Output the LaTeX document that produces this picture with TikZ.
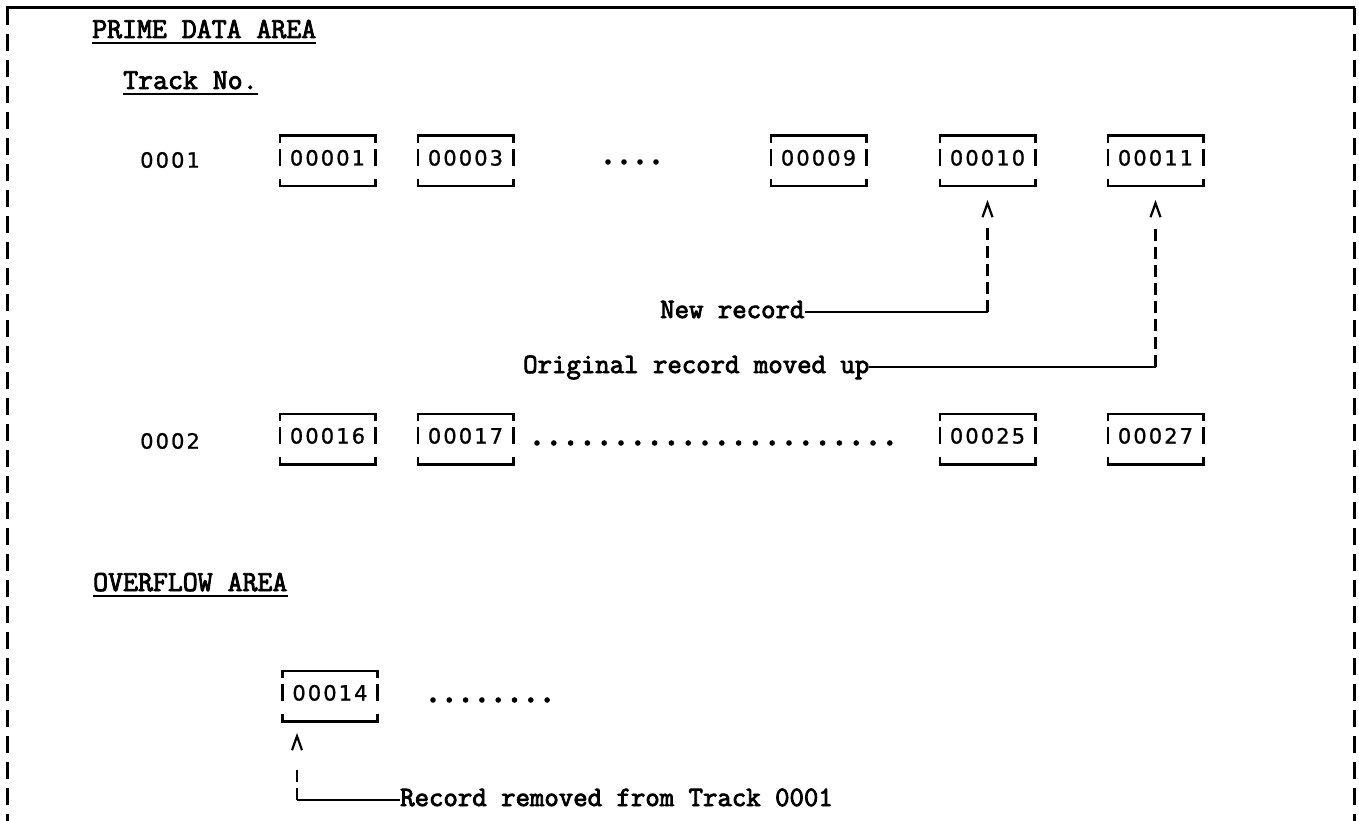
\documentclass[tikz,border=0pt]{standalone}
\usepackage{fontspec}
\newfontfamily\twf[FakeBold=3]{Latin Modern Mono}
\newfontfamily\dgf[LetterSpace=10,FakeBold=1]{DejaVu Sans}
\newcommand\drawrec[1]{%
  \draw[bx] ([yshift=-7pt]#1.north west) -- (#1.north west) -- (#1.north east) -- ([yshift=-7pt]#1.north east);
  \draw[bx] ([yshift=7pt]#1.south west) -- (#1.south west) -- (#1.south east) -- ([yshift=7pt]#1.south east);
  \draw[bx] ([yshift=-13pt]#1.north west) -- ([yshift=-30pt]#1.north west);
  \draw[bx] ([yshift=-13pt]#1.north east) -- ([yshift=-30pt]#1.north east);
}
\newcommand\chev[1]{\draw[conn,line join=miter] ([xshift=-5pt,yshift=-7pt]#1) -- ([yshift=7pt]#1) -- ([xshift=5pt,yshift=-7pt]#1);}
\begin{document}
\begin{tikzpicture}[x=1pt,y=-1pt,
  rec/.style={minimum width=95pt, minimum height=50pt, inner sep=0pt, text height=15pt, text depth=6pt, font=\dgf\fontsize{21}{24}\selectfont},
  trk/.style={inner sep=0pt, anchor=west, font=\dgf\fontsize{21}{24}\selectfont},
  bx/.style={line width=2.6pt},
  conn/.style={line width=2.2pt},
  dconn/.style={line width=2.4pt, dash pattern=on 12pt off 6pt},
  frame/.style={line width=3pt},
  dframe/.style={line width=3pt, dash pattern=on 17pt off 9pt},
  tw/.style={font=\twf\fontsize{28}{32}\selectfont, inner sep=0pt, anchor=base west, text height=16pt, text depth=4pt},
  hd/.style={tw, font=\twf\fontsize{29}{32}\selectfont},
  ul/.style={line width=2pt},
  dotc/.style={fill=black, draw=none}
]
\useasboundingbox (0,0) rectangle (1359,821);
\fill[white] (0,0) rectangle (1359,821);

% frame
\draw[frame] (6,8) -- (1355,8);
\draw[dframe] (7,8) -- (7,821);
\draw[dframe] (1354,8) -- (1354,821);

% headings
\node[hd] (pda) at (92,38) {PRIME DATA AREA};
\draw[ul] ([yshift=-5pt]pda.base west) -- ([yshift=-5pt]pda.base east);
\node[hd] (tno) at (123,89) {Track No.};
\draw[ul] ([yshift=-5pt]tno.base west) -- ([yshift=-5pt]tno.base east);
\node[hd] (ofa) at (93,591) {OVERFLOW AREA};
\draw[ul] ([yshift=-5pt]ofa.base west) -- ([yshift=-5pt]ofa.base east);

% track labels
\node[trk] (t1) at (140,160) {0001};
\node[trk] (t2) at (140,441) {0002};

% row 1
\node[rec] (b1)  at (327.5,161) {00001};
\node[rec] (b3)  at (465.5,161) {00003};
\node[rec] (b9)  at (818.5,161) {00009};
\node[rec] (b10) at (987.5,161) {00010};
\node[rec] (b11) at (1155.5,161) {00011};
% row 2
\node[rec] (b16) at (327.5,439) {00016};
\node[rec] (b17) at (465.5,439) {00017};
\node[rec] (b25) at (987.5,439) {00025};
\node[rec] (b27) at (1155.5,439) {00027};
% overflow
\node[rec] (b14) at (330,696) {00014};

\foreach \n in {b1,b3,b9,b10,b11,b16,b17,b25,b27,b14} {\drawrec{\n}}

% dots
\foreach \i in {0,...,3} {\fill[dotc] (608+16*\i,162) circle (2.8pt);}
\foreach \i in {0,...,21} {\fill[dotc] (537+16.8*\i,443) circle (2.8pt);}
\foreach \i in {0,...,7} {\fill[dotc] (433+16.3*\i,700) circle (2.8pt);}

% connectors row 1
\node[tw] (nr) at (660,318) {New record};
\node[tw] (orm) at (523,373) {Original record moved up};
\coordinate (a10) at ([yshift=-24pt]b10.south);
\coordinate (a11) at ([yshift=-24pt]b11.south);
\draw[conn] (nr.east) -- (nr.east -| b10.south);
\draw[dconn] (nr.east -| b10.south) -- ([yshift=-41pt]b10.south);
\chev{a10}
\draw[conn] (orm.east) -- (orm.east -| b11.south);
\draw[dconn] (orm.east -| b11.south) -- ([yshift=-41pt]b11.south);
\chev{a11}

% overflow connector
\node[tw] (rr) at (400,806) {Record removed from Track 0001};
\coordinate (a14) at ([xshift=-33pt,yshift=-22pt]b14.south);
\draw[conn] (rr.west) -- (rr.west -| a14);
\draw[dconn] (rr.west -| a14) -- ([yshift=30pt]rr.west -| a14);
\chev{a14}
\end{tikzpicture}
\end{document}
